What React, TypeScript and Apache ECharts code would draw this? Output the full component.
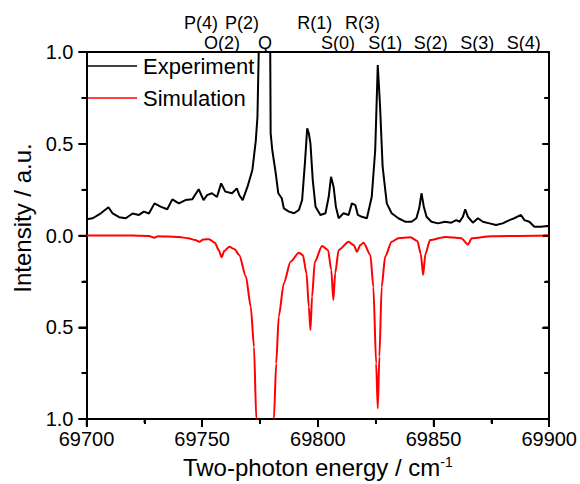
import React, { useEffect, useRef } from "react";
import * as echarts from "echarts";

const expX = [
  69700, 69702.7, 69706.2, 69709.5, 69711.3, 69714.1, 69717.0, 69719.9, 69722.7, 69724.8,
  69727.0, 69729.4, 69732.0, 69734.9, 69737.1, 69739.9, 69742.8, 69745.7, 69748.5, 69750.6,
  69752.1, 69754.2, 69756.4, 69758.2, 69760.0, 69762.9, 69765.0, 69766.0, 69767.5, 69769.6,
  69771.7, 69773.2, 69773.9, 69774.9, 69776.0, 69778.5, 69779.3, 69779.6, 69780.3, 69781.8,
  69782.9, 69784.4, 69785.3, 69787.5, 69789.7, 69791.8, 69793.2, 69794.4, 69795.4, 69796.1,
  69796.8, 69797.8, 69799.0, 69801.1, 69803.3, 69804.7, 69805.7, 69806.8, 69807.8, 69809.0,
  69811.1, 69813.3, 69814.7, 69816.2, 69817.3, 69819.0, 69821.2, 69823.3, 69824.8, 69825.9,
  69826.9, 69828.0, 69829.8, 69831.9, 69834.8, 69837.7, 69840.5, 69842.6, 69843.8, 69844.8,
  69845.8, 69847.0, 69849.1, 69852.0, 69854.9, 69857.7, 69859.8, 69861.3, 69862.7, 69863.7,
  69864.9, 69867.0, 69869.2, 69871.3, 69874.2, 69877.0, 69879.9, 69882.8, 69884.9, 69887.8,
  69889.3, 69891.4, 69893.6, 69896.4, 69899.3, 69900
];
const expY = [
  0.088, 0.094, 0.121, 0.154, 0.12, 0.1, 0.094, 0.12, 0.112, 0.13,
  0.12, 0.175, 0.157, 0.143, 0.197, 0.175, 0.193, 0.197, 0.252, 0.193,
  0.22, 0.23, 0.21, 0.284, 0.239, 0.23, 0.257, 0.221, 0.193, 0.266,
  0.357, 0.52, 0.647, 1.3, 1.8, 1.8, 1.3, 0.557, 0.466, 0.339,
  0.23, 0.203, 0.148, 0.13, 0.121, 0.139, 0.193, 0.393, 0.584, 0.557,
  0.502, 0.302, 0.157, 0.112, 0.121, 0.211, 0.32, 0.266, 0.157, 0.094,
  0.121, 0.112, 0.175, 0.166, 0.112, 0.102, 0.094, 0.211, 0.466, 0.929,
  0.702, 0.375, 0.175, 0.121, 0.094, 0.075, 0.075, 0.094, 0.148, 0.23,
  0.157, 0.102, 0.075, 0.066, 0.075, 0.07, 0.084, 0.075, 0.102, 0.143,
  0.102, 0.07, 0.094, 0.075, 0.066, 0.057, 0.066, 0.084, 0.094, 0.112,
  0.084, 0.075, 0.048, 0.048, 0.052, 0.05
];

// Simulated spectrum, drawn downward
const simX = [
  69700, 69720, 69727, 69729.3, 69731, 69735, 69740, 69744, 69747, 69748.8,
  69750.5, 69753, 69755.5, 69757.2, 69758.4, 69759.5, 69761.7, 69764, 69766, 69768.9,
  69771, 69772.4, 69773.4, 69774.5, 69777, 69780, 69781, 69782, 69783.1, 69785.3,
  69788.2, 69791.8, 69793.5, 69795.1, 69796.1, 69796.8, 69797.5, 69798.7, 69801.8, 69804.4,
  69805.8, 69806.7, 69807.5, 69809, 69813.3, 69815.5, 69816.9, 69818.4, 69819.8, 69822.7,
  69824, 69825.2, 69825.9, 69826.6, 69827.6, 69829.1, 69831.9, 69834.8, 69840, 69843,
  69844.5, 69845.5, 69846.5, 69848.5, 69855, 69862, 69864.9, 69866.5, 69875, 69900
];
const simY = [
  0, 0, -0.003, -0.012, -0.004, -0.006, -0.008, -0.015, -0.025, -0.034,
  -0.022, -0.02, -0.04, -0.08, -0.119, -0.085, -0.061, -0.075, -0.106, -0.224,
  -0.388, -0.606, -1.0, -1.8, -2.5, -1.8, -1.0, -0.697, -0.442, -0.26,
  -0.143, -0.094, -0.106, -0.206, -0.388, -0.515, -0.333, -0.143, -0.057, -0.079,
  -0.188, -0.351, -0.206, -0.079, -0.034, -0.052, -0.088, -0.052, -0.039, -0.106,
  -0.279, -0.697, -0.942, -0.66, -0.279, -0.115, -0.034, -0.015, -0.01, -0.03,
  -0.1, -0.215, -0.1, -0.025, -0.008, -0.015, -0.05, -0.015, -0.004, 0
];

// Transition labels above the plot: text, x position (cm^-1), row
const labelTexts = ["P(4)", "P(2)", "R(1)", "R(3)", "O(2)", "Q", "S(0)", "S(1)", "S(2)", "S(3)", "S(4)"];
const labelX = [69749.5, 69767.2, 69798.7, 69819.3, 69758.6, 69777.2, 69808.7, 69829.1, 69848.8, 69868.9, 69889.0];
const labelRow = [0, 0, 0, 0, 1, 1, 1, 1, 1, 1, 1];

// Tick values
const xMajorTicks = [69700, 69750, 69800, 69850, 69900];
const xMinorTicks = [69725, 69775, 69825, 69875];
const yMajorTicks = [-1, -0.5, 0, 0.5, 1];
const yMinorTicks = [-0.75, -0.25, 0.25, 0.75];

const seriesNames = ["Experiment", "Simulation"];

export default function App() {
  const ref = useRef<HTMLDivElement>(null);
  useEffect(() => {
    const chart = echarts.init(ref.current!, null, { renderer: "svg" });
    const font = "'Liberation Sans', Arial, sans-serif";
    const ls = () => ({ color: "#000", width: 2 });
    chart.setOption({
      animation: false,
      backgroundColor: "#fff",
      textStyle: { fontFamily: font },
      grid: { left: 86.5, right: 28.3, top: 52, bottom: 64.7 },
      legend: {
        orient: "vertical", left: 88, top: 55, padding: 0,
        icon: "rect", itemWidth: 49, itemHeight: 1.5, itemGap: 10,
        textStyle: { fontSize: 22, color: "#000", lineHeight: 22, fontFamily: font, padding: [0, 0, 0, 1] },
        data: seriesNames,
      },
      xAxis: [{
        type: "value", min: 69700, max: 69900, interval: 50, position: "bottom",
        axisLine: { show: true, onZero: false, lineStyle: ls() },
        splitLine: { show: false },
        axisTick: { show: true, length: 8, lineStyle: ls() },
        minorTick: { show: true, splitNumber: 2, length: 5, lineStyle: ls() },
        axisLabel: { fontSize: 20, color: "#000", margin: 10, fontFamily: font, formatter: (v: number) => String(v) },
        name: "Two-photon energy / cm{sup|-1}",
        nameLocation: "middle", nameGap: 36,
        nameTextStyle: {
          fontSize: 24, color: "#000", fontFamily: font,
          rich: { sup: { fontSize: 14, verticalAlign: "top", color: "#000", fontFamily: font } },
        },
      }, {
        type: "value", min: 69700, max: 69900, interval: 50, position: "top",
        axisLine: { show: true, onZero: false, lineStyle: ls() },
        splitLine: { show: false },
        axisTick: { show: false },
        axisLabel: { show: false },
      }],
      yAxis: [{
        type: "value", min: -1, max: 1, interval: 0.5, position: "left",
        axisLine: { show: true, onZero: false, lineStyle: ls() },
        splitLine: { show: false },
        axisTick: { show: true, length: 8, lineStyle: ls() },
        minorTick: { show: true, splitNumber: 2, length: 5, lineStyle: ls() },
        axisLabel: {
          fontSize: 20, color: "#000", margin: 13, fontFamily: font,
          formatter: (v: number) => Math.abs(v).toFixed(1),
        },
      }, {
        type: "value", min: -1, max: 1, interval: 0.5, position: "right",
        axisLine: { show: true, onZero: false, lineStyle: ls() },
        splitLine: { show: false },
        axisTick: { show: true, inside: true, length: 7, lineStyle: ls() },
        minorTick: { show: true, splitNumber: 2, length: 5, lineStyle: ls() },
        axisLabel: { show: false },
      }],
      series: [{
        name: seriesNames[0], type: "line", symbol: "none", clip: true,
        lineStyle: { color: "#000", width: 2 }, itemStyle: { color: "#000" },
        data: expX.map((x, i) => [x, expY[i]]),
      }, {
        name: seriesNames[1], type: "line", symbol: "none", clip: true,
        smooth: 0.25, smoothMonotone: "x",
        lineStyle: { color: "#ff0000", width: 2 }, itemStyle: { color: "#ff0000" },
        data: simX.map((x, i) => [x, simY[i]]),
      }],
    });
    const toX = (v: number) => chart.convertToPixel({ xAxisIndex: 0 }, v) as number;
    const toY = (v: number) => chart.convertToPixel({ yAxisIndex: 0 }, v) as number;
    const rowY = [23, 43];
    const graphic: any[] = labelTexts.map((t, i) => ({
      type: "text", x: toX(labelX[i]), y: rowY[labelRow[i]],
      style: { text: t, fontSize: 18, fill: "#000", align: "center", verticalAlign: "middle", fontFamily: font },
    }));
    graphic.push({
      type: "text", x: 22.5, y: 218, rotation: Math.PI / 2,
      style: { text: "Intensity / a.u.", fontSize: 24, fill: "#000", align: "center", verticalAlign: "middle", fontFamily: font },
    });
    const bottom = toY(-1);
    const left = toX(69700);
    const right = toX(69900);
    const tick = (x1: number, y1: number, x2: number, y2: number) => ({
      type: "line", silent: true, z: 10,
      shape: { x1, y1, x2, y2 }, style: { stroke: "#000", lineWidth: 1.5 },
    });
    xMajorTicks.forEach((v) => { const p = toX(v); graphic.push(tick(p, bottom, p, bottom + 7)); });
    xMinorTicks.forEach((v) => { const p = toX(v); graphic.push(tick(p, bottom, p, bottom + 4)); });
    yMajorTicks.forEach((v) => {
      const p = toY(v);
      graphic.push(tick(left - 8, p, left, p));
      graphic.push(tick(right - 6, p, right, p));
    });
    yMinorTicks.forEach((v) => {
      const p = toY(v);
      graphic.push(tick(left - 4, p, left, p));
      graphic.push(tick(right - 4, p, right, p));
    });
    chart.setOption({ graphic });
    return () => chart.dispose();
  }, []);
  return <div ref={ref} style={{ position: "fixed", left: 0, top: 0, width: 580, height: 484 }} />;
}
